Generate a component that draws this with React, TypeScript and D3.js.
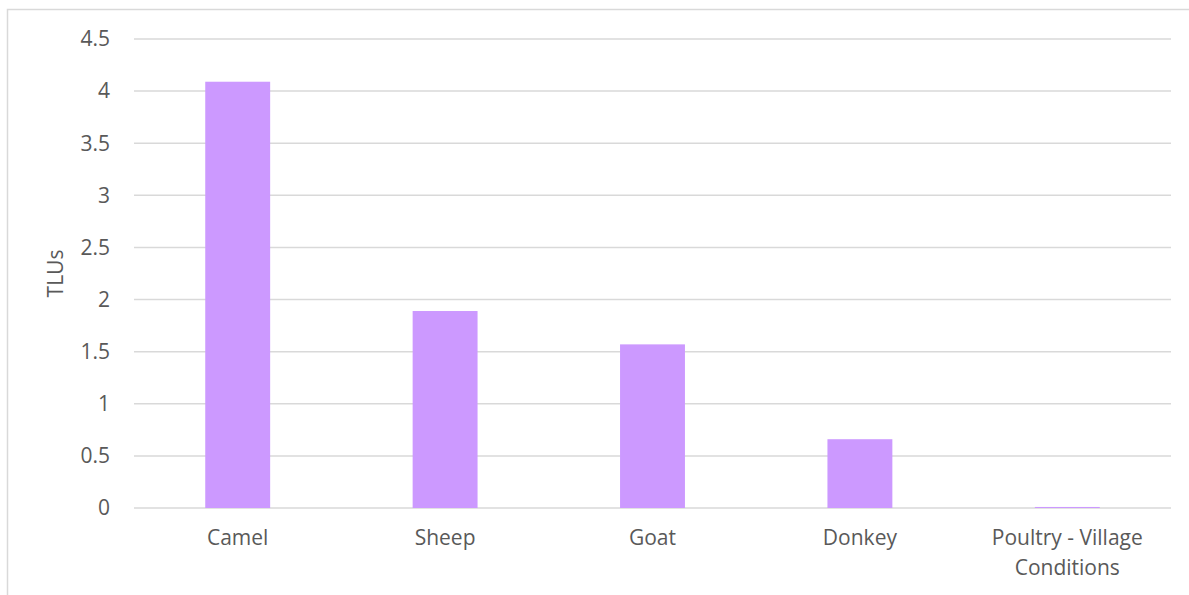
import React from "react";
import * as d3 from "d3";

const categories: string[][] = [
  ["Camel"],
  ["Sheep"],
  ["Goat"],
  ["Donkey"],
  ["Poultry - Village", "Conditions"],
];
const values: number[] = [4.09, 1.89, 1.57, 0.66, 0.01];
const yTicks: number[] = [0, 0.5, 1, 1.5, 2, 2.5, 3, 3.5, 4, 4.5];
const yLabel = "TLUs";

const W = 1189;
const H = 595;
const M = { left: 134, right: 1171, top: 39, bottom: 508 };
const FONT = "'Open Sans', sans-serif";
const FS = 21;
const TEXT = "#595959";
const GRID = "#d9d9d9";
const BAR = "#cc99ff";

export default function App() {
  const x = d3
    .scaleBand<number>()
    .domain(categories.map((_, i) => i))
    .range([M.left, M.right])
    .paddingInner(0.687)
    .paddingOuter(0.687 / 2);
  const y = d3.scaleLinear().domain([0, 4.5]).range([M.bottom, M.top]);

  return (
    <svg
      width={W}
      height={H}
      style={{ position: "absolute", left: 0, top: 0, background: "#fff" }}
      fontFamily={FONT}
    >
      <rect x={7.5} y={9.5} width={W + 10} height={H + 10} fill="#fff" stroke={GRID} strokeWidth={1.5} />
      {yTicks.map((t) => (
        <g key={t}>
          <line x1={M.left} x2={M.right} y1={y(t)} y2={y(t)} stroke={GRID} strokeWidth={1.5} />
          <text x={110} y={y(t)} dy="0.35em" textAnchor="end" fontSize={FS} fill={TEXT}>
            {t}
          </text>
        </g>
      ))}
      {values.map((v, i) => (
        <rect
          key={i}
          x={x(i)!}
          y={y(v)}
          width={x.bandwidth()}
          height={y(0) - y(v)}
          fill={BAR}
        />
      ))}
      {categories.map((lines, i) => (
        <text
          key={i}
          x={x(i)! + x.bandwidth() / 2}
          y={538}
          textAnchor="middle"
          fontSize={FS}
          fill={TEXT}
        >
          {lines.map((l, j) => (
            <tspan key={j} x={x(i)! + x.bandwidth() / 2} dy={j === 0 ? "0.35em" : 30}>
              {l}
            </tspan>
          ))}
        </text>
      ))}
      <text
        transform={`translate(56, ${(y(0) + y(4.5)) / 2}) rotate(-90)`}
        dy="0.35em"
        textAnchor="middle"
        fontSize={FS}
        fill={TEXT}
      >
        {yLabel}
      </text>
    </svg>
  );
}
